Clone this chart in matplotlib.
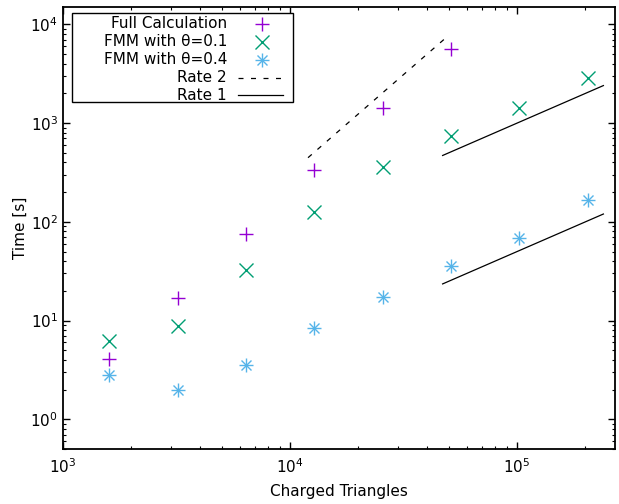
import matplotlib
matplotlib.use("Agg")
import matplotlib.pyplot as plt
from matplotlib.lines import Line2D
from matplotlib.patches import Rectangle
import numpy as np

plt.rcParams['font.family'] = ['DejaVu Sans']

# Data
n_full = [1600, 3200, 6400, 12800, 25600, 51200]
t_full = [4.05, 16.8, 75, 332, 1410, 5590]

n_fmm = [1600, 3200, 6400, 12800, 25600, 51200, 102400, 204800]
t_fmm01 = [6.16, 8.75, 32.3, 125, 356, 734, 1410, 2840]
t_fmm04 = [2.79, 1.97, 3.52, 8.34, 17.2, 35.4, 68, 165]

rate2_x = [12000, 50000]
rate2_c = 3.1e-6
rate1_x = [47000, 240000]
rate1_c_hi = 0.01
rate1_c_lo = 5e-4

labels = ["Full Calculation", "FMM with θ=0.1", "FMM with θ=0.4", "Rate 2", "Rate 1"]
col_full = "#9400d3"
col_01 = "#009e73"
col_04 = "#56b4e9"

fig = plt.figure(figsize=(6.19, 5.04), dpi=100)
ax = fig.add_axes([63/619, 1-449/504, (615-63)/619, (449-7)/504])
ax.set_xscale('log')
ax.set_yscale('log')

ms = 10
ax.plot(n_full, t_full, ls='none', marker='+', ms=ms, mew=1.0, color=col_full)
ax.plot(n_fmm, t_fmm01, ls='none', marker='x', ms=ms*0.95, mew=1.0, color=col_01)
ax.plot(n_fmm, t_fmm04, ls='none', marker='x', ms=ms*0.75, mew=1.0, color=col_04)
ax.plot(n_fmm, t_fmm04, ls='none', marker='+', ms=ms, mew=1.0, color=col_04)

r2x = np.array(rate2_x, dtype=float)
ax.plot(r2x, rate2_c * r2x**2, color='black', lw=0.9, ls=(0, (4, 6)))
r1x = np.array(rate1_x, dtype=float)
ax.plot(r1x, rate1_c_hi * r1x, color='black', lw=0.9)
ax.plot(r1x, rate1_c_lo * r1x, color='black', lw=0.9)

ax.set_xlim(1e3, 2.7e5)
ax.set_ylim(0.5, 1.5e4)

ax.tick_params(which='both', direction='in', top=True, right=True, labelsize=11)
ax.tick_params(which='major', length=5, width=1.0)
ax.tick_params(which='minor', length=2.5, width=0.8)
ax.tick_params(axis='x', pad=6)
for s in ax.spines.values():
    s.set_linewidth(1.3)

ax.set_xlabel("Charged Triangles", fontsize=11, labelpad=6)
ax.set_ylabel("Time [s]", fontsize=11, labelpad=2)

# Manual gnuplot-style legend (axes coords)
W = 615 - 63
H = 449 - 7
def ax_x(px):
    return (px - 63) / W
def ax_y(py):
    return (449 - py) / H

ax.add_patch(Rectangle((ax_x(72), ax_y(102)), ax_x(293) - ax_x(72), ax_y(13) - ax_y(102),
                       transform=ax.transAxes, fill=True, facecolor='white',
                       edgecolor='black', lw=1.0, zorder=5))
rows_y = [24, 42, 60, 78, 95]
for lab, py in zip(labels, rows_y):
    ax.text(ax_x(227), ax_y(py), lab, transform=ax.transAxes, ha='right', va='center',
            fontsize=11, zorder=6)
mx = ax_x(262)
ax.add_line(Line2D([mx], [ax_y(rows_y[0])], transform=ax.transAxes, ls='none', marker='+',
                   ms=ms, mew=1.0, color=col_full, zorder=6))
ax.add_line(Line2D([mx], [ax_y(rows_y[1])], transform=ax.transAxes, ls='none', marker='x',
                   ms=ms*0.95, mew=1.0, color=col_01, zorder=6))
ax.add_line(Line2D([mx], [ax_y(rows_y[2])], transform=ax.transAxes, ls='none', marker='x',
                   ms=ms*0.75, mew=1.0, color=col_04, zorder=6))
ax.add_line(Line2D([mx], [ax_y(rows_y[2])], transform=ax.transAxes, ls='none', marker='+',
                   ms=ms, mew=1.0, color=col_04, zorder=6))
ax.add_line(Line2D([ax_x(238), ax_x(283)], [ax_y(rows_y[3])] * 2, transform=ax.transAxes,
                   color='black', lw=0.9, ls=(0, (4, 6)), zorder=6))
ax.add_line(Line2D([ax_x(238), ax_x(283)], [ax_y(rows_y[4])] * 2, transform=ax.transAxes,
                   color='black', lw=0.9, zorder=6))

fig.savefig("out.png", dpi=100)
